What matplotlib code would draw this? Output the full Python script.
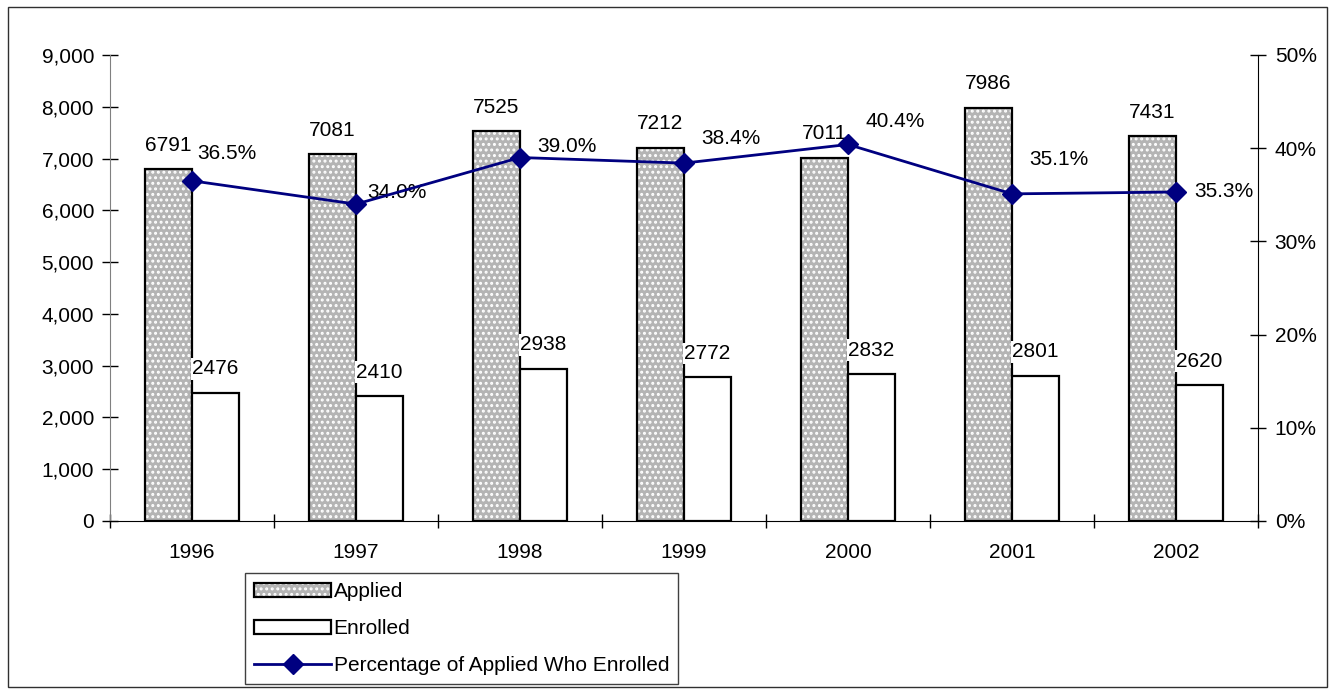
import matplotlib.pyplot as plt
import numpy as np
from matplotlib.patches import Rectangle
from matplotlib.legend_handler import HandlerTuple

plt.rcParams['font.family'] = ['Liberation Sans', 'DejaVu Sans']
plt.rcParams['font.size'] = 15
plt.rcParams['hatch.linewidth'] = 1.4

years = ['1996', '1997', '1998', '1999', '2000', '2001', '2002']
applied = [6791, 7081, 7525, 7212, 7011, 7986, 7431]
enrolled = [2476, 2410, 2938, 2772, 2832, 2801, 2620]
pct = [36.5, 34.0, 39.0, 38.4, 40.4, 35.1, 35.3]

# where the % labels sit relative to each marker (pixels), as placed in the original
pct_offsets = [(5, 27), (11, 12), (17, 11), (17, 25), (17, 23), (17, 34), (18, 1)]

W, H = 1335, 694
fig = plt.figure(figsize=(W / 100, H / 100), dpi=100)
ax = fig.add_axes([110 / W, 1 - 521 / H, (1258 - 110) / W, (521 - 55) / H])
ax2 = ax.twinx()

x = np.arange(len(years))
w = 0.287

# applied bars: grey with white dots, then black outline on top
b_fill = ax.bar(x - w / 2, applied, w, color='#b4b4b4', hatch='...', edgecolor='white',
                linewidth=0, zorder=2)
b_app = ax.bar(x - w / 2, applied, w, fill=False, edgecolor='black', linewidth=1.6, zorder=3)
b_enr = ax.bar(x + w / 2, enrolled, w, color='white', edgecolor='black', linewidth=1.6,
               zorder=3)

for xi, v in zip(x, applied):
    ax.annotate(str(v), (xi - w / 2, v), xytext=(0, 24), textcoords='offset pixels',
                ha='center', va='center')
for xi, v in zip(x, enrolled):
    ax.annotate(str(v), (xi, v), xytext=(0, 24), textcoords='offset pixels',
                ha='left', va='center', zorder=4,
                bbox=dict(facecolor='white', edgecolor='none', pad=1))

line, = ax2.plot(x, np.array(pct) / 100, color='#000080', linewidth=2, marker='D',
                 markersize=10, zorder=5)
for xi, p, (dx, dy) in zip(x, pct, pct_offsets):
    ax2.annotate(f'{p:.1f}%', (xi, p / 100), xytext=(dx, dy), textcoords='offset pixels',
                 ha='left', va='center')

ax.set_xlim(-0.5, len(years) - 0.5)
ax.set_ylim(0, 9000)
ax.set_yticks(np.arange(0, 9001, 1000))
ax.set_yticklabels([f'{v:,}' for v in range(0, 9001, 1000)])
ax2.set_ylim(0, 0.5)
ax2.set_yticks(np.arange(0, 0.51, 0.1))
ax2.set_yticklabels([f'{int(round(v * 100))}%' for v in np.arange(0, 0.51, 0.1)])

ax.set_xticks(x)
ax.set_xticklabels(years)
ax.set_xticks(np.arange(-0.5, len(years), 1), minor=True)
ax.tick_params(axis='x', which='major', length=0, pad=16)
ax.tick_params(axis='x', which='minor', direction='inout', length=9.5, width=1)
ax.tick_params(axis='y', direction='inout', length=11, width=1, pad=6)
ax2.tick_params(axis='y', direction='inout', length=11, width=1, pad=6.5)

for a in (ax, ax2):
    a.spines['top'].set_visible(False)
ax.spines['left'].set_color('#808080')
ax2.spines['left'].set_visible(False)
ax2.spines['right'].set_color('black')
ax.spines['right'].set_visible(False)
ax2.spines['bottom'].set_visible(False)

leg = fig.legend([(b_fill[0], b_app[0]), b_enr[0], line],
                 ['Applied', 'Enrolled', 'Percentage of Applied Who Enrolled'],
                 handler_map={tuple: HandlerTuple(ndivide=1, pad=0)},
                 loc='upper left', bbox_to_anchor=(245 / W, 1 - 573 / H),
                 borderaxespad=0, fancybox=False, edgecolor='#404040', framealpha=1,
                 handlelength=3.7, handletextpad=0.1, labelspacing=0.85,
                 borderpad=0.45)
leg.get_frame().set_linewidth(1)

fig.patches.append(Rectangle((8 / W, 1 - 687 / H), (1327 - 8) / W, (687 - 7) / H,
                             transform=fig.transFigure, fill=False,
                             edgecolor='#303030', linewidth=1))

fig.savefig('out.png', dpi=100)
